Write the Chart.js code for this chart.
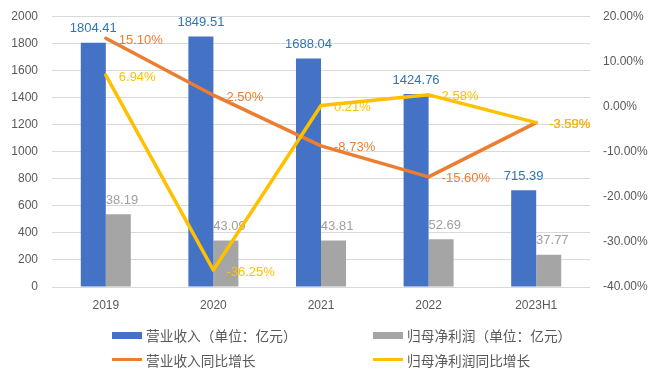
<!DOCTYPE html>
<html>
<head>
<meta charset="utf-8">
<script src="https://cdn.jsdelivr.net/npm/chart.js@4/dist/chart.umd.min.js"></script>
<style>
  html, body { margin: 0; padding: 0; background: #ffffff; }
  #wrap { position: relative; width: 660px; height: 383px; overflow: hidden; }
  #chartBox { position: absolute; left: 0; top: -5px; width: 660px; height: 388px; }
  .lg-text { position: absolute; height: 20px; line-height: 20px; font-family: "Noto Sans CJK SC", sans-serif; font-size: 13.7px; color: #595959; white-space: nowrap; }
  .lg-sym { position: absolute; }
</style>
</head>
<body>
<div id="wrap">
  <div id="chartBox"><canvas id="c"></canvas></div>
  <div class="lg-sym" style="left:112px;top:332px;width:30px;height:7px;background:#4472C4"></div>
  <div class="lg-text" id="lg0" style="left:146px;top:325px"></div>
  <div class="lg-sym" style="left:373px;top:332px;width:30px;height:7px;background:#A5A5A5"></div>
  <div class="lg-text" id="lg1" style="left:407px;top:325px"></div>
  <div class="lg-sym" style="left:112px;top:358px;width:30px;height:3px;background:#ED7D31"></div>
  <div class="lg-text" id="lg2" style="left:146px;top:350px"></div>
  <div class="lg-sym" style="left:373px;top:358px;width:30px;height:3px;background:#FFC000"></div>
  <div class="lg-text" id="lg3" style="left:407px;top:350px"></div>
</div>
<script>
const categories = ['2019', '2020', '2021', '2022', '2023H1'];
const revenue = [1804.41, 1849.51, 1688.04, 1424.76, 715.39];
const netProfit = [538.19, 343.09, 343.81, 352.69, 237.77];
const revenueGrowth = [15.10, 2.50, -8.73, -15.60, -3.59];
const profitGrowth = [6.94, -36.25, 0.21, 2.58, -3.59];
const seriesNames = ['营业收入（单位：亿元）', '归母净利润（单位：亿元）', '营业收入同比增长', '归母净利润同比增长'];
const leftTicks = { min: 0, max: 2000, step: 200 };
const rightTicks = { min: -40, max: 20, step: 10 };

seriesNames.forEach((n, i) => { document.getElementById('lg' + i).textContent = n; });

const numFont = '"Liberation Sans", Arial, sans-serif';

const valueLabels = {
  id: 'valueLabels',
  afterDatasetDraw(chart, args) {
    const ds = chart.data.datasets[args.index];
    const meta = args.meta;
    const ctx = chart.ctx;
    ctx.save();
    ctx.font = '13px ' + numFont;
    ctx.fillStyle = ds.labelColor;
    meta.data.forEach((el, i) => {
      const v = ds.data[i];
      if (ds.type === 'line') {
        ctx.textAlign = 'left';
        ctx.textBaseline = 'middle';
        ctx.fillText(v.toFixed(2) + '%', el.x + 13, el.y + 2);
      } else {
        ctx.textAlign = 'center';
        ctx.textBaseline = 'middle';
        ctx.fillText(v.toFixed(2), el.x, el.y - 14);
      }
    });
    ctx.restore();
  }
};

new Chart(document.getElementById('c'), {
  type: 'bar',
  data: {
    labels: categories,
    datasets: [
      { type: 'bar', label: seriesNames[0], data: revenue, yAxisID: 'y', backgroundColor: '#4472C4', labelColor: '#2E75B6', order: 3, categoryPercentage: 0.465, barPercentage: 1 },
      { type: 'bar', label: seriesNames[1], data: netProfit, yAxisID: 'y', backgroundColor: '#A5A5A5', labelColor: '#A0A0A0', order: 3, categoryPercentage: 0.465, barPercentage: 1 },
      { type: 'line', label: seriesNames[2], data: revenueGrowth, yAxisID: 'y1', borderColor: '#ED7D31', labelColor: '#ED7D31', borderWidth: 3.5, pointRadius: 0, tension: 0, fill: false, order: 2, borderCapStyle: 'round', borderJoinStyle: 'round' },
      { type: 'line', label: seriesNames[3], data: profitGrowth, yAxisID: 'y1', borderColor: '#FFC000', labelColor: '#FFC000', borderWidth: 3.5, pointRadius: 0, tension: 0, fill: false, order: 1, borderCapStyle: 'round', borderJoinStyle: 'round' }
    ]
  },
  options: {
    responsive: true,
    maintainAspectRatio: false,
    animation: false,
    layout: { padding: { top: 5, left: 0, right: 0, bottom: 0 } },
    plugins: { legend: { display: false }, tooltip: { enabled: false } },
    scales: {
      x: {
        grid: { display: false, drawTicks: false },
        border: { display: false },
        ticks: { color: '#595959', font: { size: 12, family: numFont }, padding: 11, maxRotation: 0 },
        afterFit(s) { s.height = 96; }
      },
      y: {
        position: 'left',
        min: leftTicks.min, max: leftTicks.max,
        grid: { color: '#D9D9D9', lineWidth: 1, drawTicks: false },
        border: { display: false },
        ticks: { stepSize: leftTicks.step, color: '#595959', font: { size: 12, family: numFont }, padding: 14, callback: v => String(v) },
        afterFit(s) { s.width = 52; }
      },
      y1: {
        position: 'right',
        min: rightTicks.min, max: rightTicks.max,
        grid: { display: false, drawOnChartArea: false, drawTicks: false },
        border: { display: false },
        ticks: { stepSize: rightTicks.step, color: '#595959', font: { size: 12, family: numFont }, padding: 13, callback: v => v.toFixed(2) + '%' },
        afterFit(s) { s.width = 70; }
      }
    }
  },
  plugins: [valueLabels]
});
</script>
</body>
</html>
